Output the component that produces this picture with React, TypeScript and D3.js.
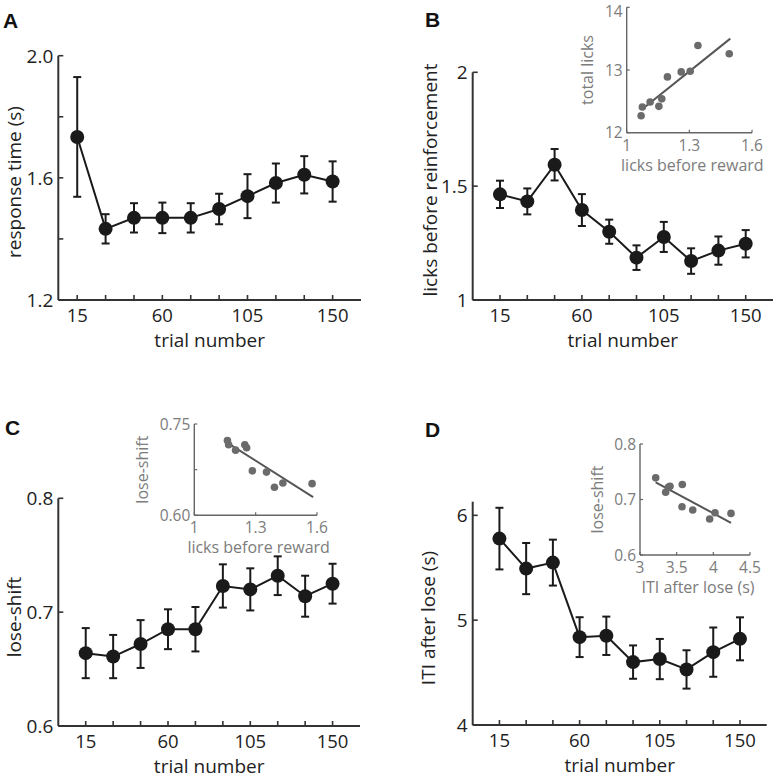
import React from 'react';
import * as d3 from 'd3';

// trial bins (x axis of every main panel)
const trials = [15, 30, 45, 60, 75, 90, 105, 120, 135, 150];
const trialTickLabels = [15, 60, 105, 150];

// A: response time
const rtMean = [1.734, 1.433, 1.469, 1.469, 1.469, 1.498, 1.54, 1.583, 1.61, 1.588];
const rtSem = [0.196, 0.048, 0.048, 0.05, 0.048, 0.05, 0.072, 0.064, 0.061, 0.066];

// B: licks before reinforcement
const licksMean = [1.464, 1.433, 1.594, 1.395, 1.3, 1.186, 1.277, 1.171, 1.217, 1.247];
const licksSem = [0.06, 0.057, 0.069, 0.07, 0.053, 0.054, 0.066, 0.056, 0.062, 0.06];

// C: lose-shift
const loseShiftMean = [0.664, 0.661, 0.672, 0.685, 0.685, 0.723, 0.72, 0.732, 0.714, 0.725];
const loseShiftSem = [0.022, 0.019, 0.021, 0.0175, 0.0195, 0.019, 0.0185, 0.017, 0.018, 0.0175];

// D: ITI after lose
const itiMean = [5.778, 5.492, 5.549, 4.838, 4.851, 4.6, 4.629, 4.53, 4.695, 4.822];
const itiSem = [0.294, 0.244, 0.219, 0.19, 0.183, 0.159, 0.192, 0.183, 0.235, 0.205];

// inset B: licks before reward vs total licks
const insetBx = [1.069, 1.075, 1.112, 1.154, 1.168, 1.195, 1.261, 1.304, 1.341, 1.491];
const insetBy = [12.27, 12.41, 12.49, 12.42, 12.54, 12.89, 12.97, 12.98, 13.39, 13.26];
const insetBfitX = [1.072, 1.496];
const insetBfitY = [12.37, 13.5];

// inset C: licks before reward vs lose-shift
const insetCx = [1.162, 1.168, 1.202, 1.247, 1.256, 1.284, 1.353, 1.392, 1.433, 1.576];
const insetCy = [0.723, 0.716, 0.707, 0.716, 0.711, 0.673, 0.671, 0.646, 0.653, 0.652];
const insetCfitX = [1.162, 1.581];
const insetCfitY = [0.719, 0.63];

// inset D: ITI after lose vs lose-shift
const insetDx = [3.214, 3.35, 3.386, 3.409, 3.577, 3.573, 3.719, 3.95, 4.023, 4.241];
const insetDy = [0.739, 0.713, 0.722, 0.724, 0.727, 0.687, 0.681, 0.665, 0.676, 0.675];
const insetDfitX = [3.214, 4.241];
const insetDfitY = [0.731, 0.658];

const FONT = '"Open Sans", "Noto Sans", sans-serif';
const AXIS = '#333';
const INK = '#1a1a1a';
const GREY_TXT = '#7c7c7c';

type PanelProps = {
  letter: string;
  letterPos: [number, number];
  xDomain: [number, number];
  xRange: [number, number];
  yDomain: [number, number];
  yRange: [number, number];
  yTicks: number[];
  yLabeled: number[];
  yFmt: (v: number) => string;
  mean: number[];
  sem: number[];
  yLabel: string;
  yLabelPos: [number, number];
};

const Panel = (p: PanelProps) => {
  const x = d3.scaleLinear().domain(p.xDomain).range(p.xRange);
  const y = d3.scaleLinear().domain(p.yDomain).range(p.yRange);
  const x0 = p.xRange[0];
  const y0 = p.yRange[0];
  const pts = trials.map((t, i) => [x(t), y(p.mean[i])] as [number, number]);
  const line = d3.line()(pts);
  const tickLen = 5;
  return (
    <g>
      <text x={p.letterPos[0]} y={p.letterPos[1]} fontFamily='"Liberation Sans", Arial, sans-serif'
        fontWeight='bold' fontSize={21} fill='#111'>{p.letter}</text>
      {/* axes */}
      <line x1={x0} x2={x0} y1={p.yRange[1]} y2={y0} stroke={AXIS} strokeWidth={2} />
      <line x1={x0} x2={p.xRange[1]} y1={y0} y2={y0} stroke={AXIS} strokeWidth={2} />
      {p.yTicks.map((v) => (
        <g key={'y' + v}>
          <line x1={x0} x2={x0 + tickLen} y1={y(v)} y2={y(v)} stroke={AXIS} strokeWidth={1.6} />
          {p.yLabeled.includes(v) &&
            <text x={x0 - 5} y={y(v)} dy='0.36em' textAnchor='end' fontSize={19}
              fontFamily={FONT} fill='#222'>{p.yFmt(v)}</text>}
        </g>
      ))}
      {trials.map((t) => (
        <g key={'x' + t}>
          <line x1={x(t)} x2={x(t)} y1={y0} y2={y0 - tickLen} stroke={AXIS} strokeWidth={1.6} />
          {trialTickLabels.includes(t) &&
            <text x={x(t)} y={y0 + 22} textAnchor='middle' fontSize={18.5}
              fontFamily={FONT} fill='#222'>{t}</text>}
        </g>
      ))}
      <text x={(p.xRange[0] + p.xRange[1]) / 2} y={y0 + 47} textAnchor='middle' fontSize={19}
        fontFamily={FONT} fill='#222'>trial number</text>
      <text transform={`translate(${p.yLabelPos[0]},${p.yLabelPos[1]}) rotate(-90)`}
        textAnchor='middle' fontSize={19} fontFamily={FONT} fill='#222'>{p.yLabel}</text>
      {/* error bars */}
      {trials.map((t, i) => {
        const top = y(p.mean[i] + p.sem[i]);
        const bot = y(p.mean[i] - p.sem[i]);
        const cx = x(t);
        return (
          <g key={'e' + t} stroke={INK} strokeWidth={2}>
            <line x1={cx} x2={cx} y1={top} y2={bot} />
            <line x1={cx - 4} x2={cx + 4} y1={top} y2={top} />
            <line x1={cx - 4} x2={cx + 4} y1={bot} y2={bot} />
          </g>
        );
      })}
      <path d={line || ''} fill='none' stroke={INK} strokeWidth={2} />
      {pts.map((d, i) => (
        <circle key={'c' + i} cx={d[0]} cy={d[1]} r={7} fill={INK} />
      ))}
    </g>
  );
};

type InsetProps = {
  xs: number[];
  ys: number[];
  fitX: number[];
  fitY: number[];
  xDomain: [number, number];
  xRange: [number, number];
  yDomain: [number, number];
  yRange: [number, number];
  xTicks: number[];
  xFmt: (v: number) => string;
  yTicks: number[];
  yLabeled: number[];
  yFmt: (v: number) => string;
  xLabel: string;
  yLabel: string;
  yLabelX: number;
};

const Inset = (p: InsetProps) => {
  const x = d3.scaleLinear().domain(p.xDomain).range(p.xRange);
  const y = d3.scaleLinear().domain(p.yDomain).range(p.yRange);
  const x0 = p.xRange[0];
  const y0 = p.yRange[0];
  const fit = d3.line()(p.fitX.map((v, i) => [x(v), y(p.fitY[i])] as [number, number]));
  return (
    <g>
      <line x1={x0} x2={x0} y1={p.yRange[1]} y2={y0} stroke='#666' strokeWidth={1.4} />
      <line x1={x0} x2={p.xRange[1]} y1={y0} y2={y0} stroke='#666' strokeWidth={1.4} />
      {p.yTicks.map((v) => (
        <g key={'iy' + v}>
          <line x1={x0} x2={x0 + 3} y1={y(v)} y2={y(v)} stroke='#666' strokeWidth={1.2} />
          {p.yLabeled.includes(v) &&
            <text x={x0 - 4} y={Math.max(y(v), 11.5)} dy='0.36em' textAnchor='end' fontSize={15.5}
              fontFamily={FONT} fill={GREY_TXT}>{p.yFmt(v)}</text>}
        </g>
      ))}
      {p.xTicks.map((v) => (
        <g key={'ix' + v}>
          <line x1={x(v)} x2={x(v)} y1={y0} y2={y0 - 3} stroke='#666' strokeWidth={1.2} />
          <text x={x(v)} y={y0 + 18} textAnchor='middle' fontSize={15.5}
            fontFamily={FONT} fill={GREY_TXT}>{p.xFmt(v)}</text>
        </g>
      ))}
      <text x={(p.xRange[0] + p.xRange[1]) / 2 + 3} y={y0 + 38} textAnchor='middle' fontSize={16}
        fontFamily={FONT} fill={GREY_TXT}>{p.xLabel}</text>
      <text transform={`translate(${p.yLabelX},${(p.yRange[0] + p.yRange[1]) / 2}) rotate(-90)`}
        textAnchor='middle' fontSize={16} fontFamily={FONT} fill={GREY_TXT}>{p.yLabel}</text>
      <path d={fit || ''} fill='none' stroke='#555' strokeWidth={2} />
      {p.xs.map((v, i) => (
        <circle key={'p' + i} cx={x(v)} cy={y(p.ys[i])} r={3.8} fill='#6b6b6b' />
      ))}
    </g>
  );
};

const f1 = d3.format('.1f');
const f2 = d3.format('.2f');
const fg = (v: number) => String(v);

const App = () => {
  return (
    <svg width={776} height={779} style={{ position: 'absolute', left: 0, top: 0, background: '#fff' }}>
      <rect width={776} height={779} fill='#fff' />
      <Panel letter='A' letterPos={[3, 28]} xDomain={[5, 165]} xRange={[58.3, 361]}
        yDomain={[1.2, 2.0]} yRange={[300, 55.7]} yTicks={[1.2, 1.4, 1.6, 1.8, 2.0]}
        yLabeled={[1.2, 1.6, 2.0]} yFmt={f1} mean={rtMean} sem={rtSem}
        yLabel='response time (s)' yLabelPos={[21, 182]} />
      <Panel letter='B' letterPos={[425, 27]} xDomain={[0, 165]} xRange={[472.7, 773]}
        yDomain={[1, 2]} yRange={[300, 72.3]} yTicks={[1, 1.5, 2]}
        yLabeled={[1, 1.5, 2]} yFmt={fg} mean={licksMean} sem={licksSem}
        yLabel='licks before reinforcement' yLabelPos={[437, 180]} />
      <Panel letter='C' letterPos={[5, 435]} xDomain={[0, 165]} xRange={[58.3, 360]}
        yDomain={[0.6, 0.8]} yRange={[726, 498.3]} yTicks={[0.6, 0.7, 0.8]}
        yLabeled={[0.6, 0.7, 0.8]} yFmt={f1} mean={loseShiftMean} sem={loseShiftSem}
        yLabel='lose-shift' yLabelPos={[21, 617]} />
      <Panel letter='D' letterPos={[425, 437]} xDomain={[0, 165]} xRange={[472.7, 766.7]}
        yDomain={[4, 6.13]} yRange={[725, 501.7]} yTicks={[4, 5, 6]}
        yLabeled={[4, 5, 6]} yFmt={fg} mean={itiMean} sem={itiSem}
        yLabel='ITI after lose (s)' yLabelPos={[435, 618]} />
      <Inset xs={insetBx} ys={insetBy} fitX={insetBfitX} fitY={insetBfitY}
        xDomain={[1, 1.6]} xRange={[626.7, 752]} yDomain={[12, 14]} yRange={[132.7, 7.3]}
        xTicks={[1, 1.3, 1.6]} xFmt={fg} yTicks={[12, 13, 14]} yLabeled={[12, 13, 14]} yFmt={fg}
        xLabel='licks before reward' yLabel='total licks' yLabelX={593} />
      <Inset xs={insetCx} ys={insetCy} fitX={insetCfitX} fitY={insetCfitY}
        xDomain={[1, 1.6]} xRange={[194.3, 317]} yDomain={[0.6, 0.75]} yRange={[515.3, 424]}
        xTicks={[1, 1.3, 1.6]} xFmt={fg} yTicks={[0.6, 0.675, 0.75]} yLabeled={[0.6, 0.75]} yFmt={f2}
        xLabel='licks before reward' yLabel='lose-shift' yLabelX={148} />
      <Inset xs={insetDx} ys={insetDy} fitX={insetDfitX} fitY={insetDfitY}
        xDomain={[3, 4.5]} xRange={[640, 750]} yDomain={[0.6, 0.8]} yRange={[555, 444]}
        xTicks={[3, 3.5, 4, 4.5]} xFmt={fg} yTicks={[0.6, 0.7, 0.8]} yLabeled={[0.6, 0.7, 0.8]} yFmt={f1}
        xLabel='ITI after lose (s)' yLabel='lose-shift' yLabelX={603} />
    </svg>
  );
};

export default App;
